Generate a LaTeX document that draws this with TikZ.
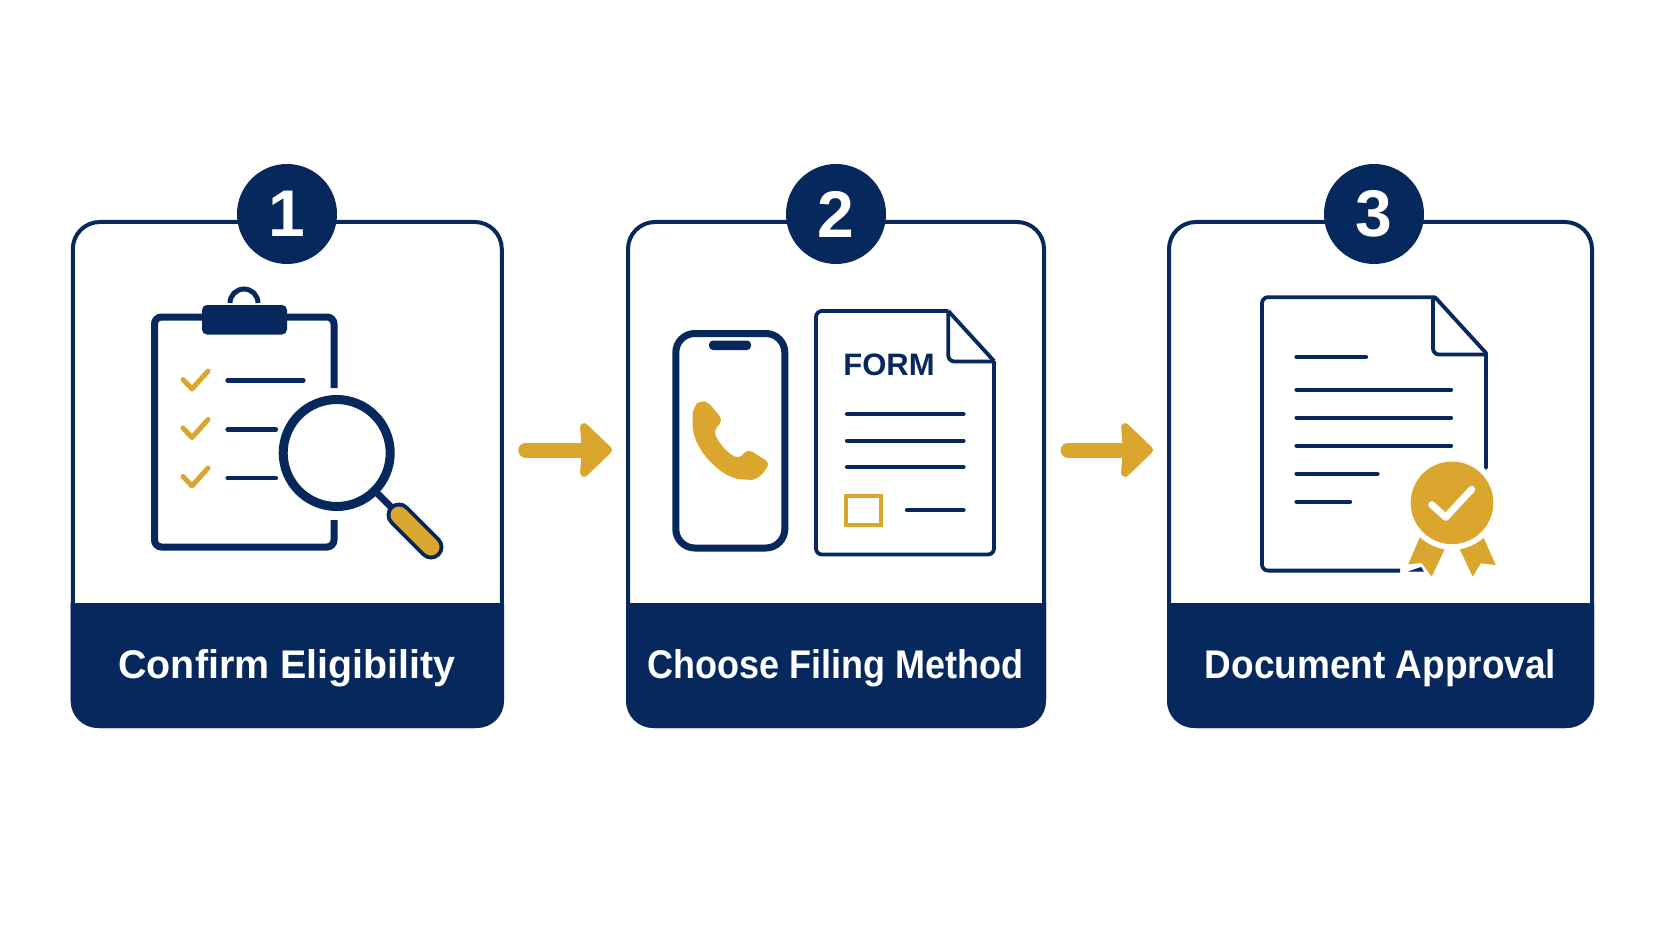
\documentclass[tikz,border=0pt]{standalone}
\usepackage{fontspec}
\setmainfont{Liberation Sans}
\usetikzlibrary{arrows.meta}
\definecolor{navy}{HTML}{07285C}
\definecolor{gold}{HTML}{DBA62E}
\def\capsize{\fontsize{40}{48}\selectfont\bfseries}
\tikzstyle{card}=[draw=navy,fill=white,rectangle,rounded corners=27pt,line width=4pt,minimum height=504pt]
\tikzstyle{band}=[fill=navy]
\tikzstyle{badge}=[circle,fill=navy,text=white,inner sep=0pt,minimum size=100pt,
                   font=\fontsize{66}{70}\selectfont\bfseries]
\tikzstyle{title}=[anchor=base,text=white,inner sep=0pt,font=\capsize]
\tikzstyle{flow}=[draw=gold,line width=15pt,line cap=round,-{Stealth[length=34pt,width=64pt,inset=2pt,round]}]
\tikzstyle{icon}=[draw=navy,line width=7pt,rounded corners=7pt]
\tikzstyle{sheet}=[draw=navy,line width=3.8pt,rounded corners=6pt,line join=round]
\tikzstyle{rule}=[draw=navy,line width=4.2pt,line cap=round]
\tikzstyle{tick}=[draw=gold,line width=5pt,line cap=round,line join=round]

\begin{document}
\begin{tikzpicture}[x=1pt,y=-1pt]
  \useasboundingbox (0,0) rectangle (1672,941);

  % step 1
  \node[card,minimum width=429pt] (c1card) at (287.3,474) {};
  \path[band] (70.7,603) -- (504,603) [rounded corners=27pt] -- (504,728) -- (70.7,728) [sharp corners] -- cycle;
  \node[badge] (c1badge) at (287,214) {1};
  \node[title] (c1title) at (287,678) {\scalebox{0.985}[1]{Confirm Eligibility}};

  % clipboard
  \draw[icon] (334,388) -- (334,317) -- (154.5,317) -- (154.5,547) -- (334,547) -- (334,520);
  \draw[navy,line width=5pt] (230,303) arc (180:360:14);
  \fill[navy,rounded corners=5pt] (202,305) rectangle (287,334.5);
  \draw[tick] (183,379.5) -- (192,389) -- (208,371);
  \draw[tick] (183,428) -- (192,437.5) -- (208,419.5);
  \draw[tick] (183,476.5) -- (192,486) -- (208,468);
  \draw[rule] (227.5,380.4) -- (303.5,380.4);
  \draw[rule] (227.5,429.5) -- (276,429.5);
  \draw[rule] (227.5,478.2) -- (276,478.2);

  % magnifier
  \draw[navy,line width=7pt] (376,492) -- (392,508);
  \draw[navy,line width=25pt,line cap=round] (399,515) -- (431,547);
  \draw[gold,line width=17pt,line cap=round] (399,515) -- (431,547);
  \draw[navy,fill=white,line width=9pt] (336.7,453) circle (53.5);

  % step 2
  \node[card,minimum width=416pt] (c2card) at (836,474) {};
  \path[band] (626,603) -- (1046,603) [rounded corners=27pt] -- (1046,728) -- (626,728) [sharp corners] -- cycle;
  \node[badge] (c2badge) at (836,214) {2};
  \node[title] (c2title) at (835.6,678) {\scalebox{0.9}[1]{Choose Filing Method}};

  % phone
  \draw[icon,rounded corners=19pt] (675.8,333.5) rectangle (784.8,548);
  \fill[navy,rounded corners=4pt] (709,340.5) rectangle (751,350);
  \fill[gold,rounded corners=5pt] (715,410.5) -- (723,420) -- (713.5,431)
    .. controls (720,445) and (727,452) .. (738.5,459) -- (748,449) -- (770,463) -- (762,475)
    .. controls (757,478) and (752,480) .. (747,479.5) .. controls (722,479) and (693,450) .. (692.5,420)
    .. controls (692.5,410) and (697,403) .. (702,401) -- (708,402) -- cycle;

  % form
  \draw[sheet] (948.3,311) -- (816,311) -- (816,554.5) -- (994,554.5) -- (994,361);
  \draw[sheet] (948.3,311) [sharp corners] -- (994,361);
  \draw[sheet] (948.3,311) -- (948.3,361.5) -- (994,361.5);
  \node[anchor=base,text=navy,inner sep=0pt,font=\fontsize{31}{36}\selectfont\bfseries] (c2form) at (889,375.5) {FORM};
  \draw[rule] (847,414.2) -- (963.5,414.2);
  \draw[rule] (847,440.6) -- (963.5,440.6);
  \draw[rule] (847,467.1) -- (963.5,467.1);
  \draw[gold,line width=4pt] (846.3,496) rectangle (881,524.5);
  \draw[rule] (907,510) -- (963.5,510);

  % step 3
  \node[card,minimum width=423pt] (c3card) at (1380.5,474) {};
  \path[band] (1167,603) -- (1594,603) [rounded corners=27pt] -- (1594,728) -- (1167,728) [sharp corners] -- cycle;
  \node[badge] (c3badge) at (1374,214) {3};
  \node[title] (c3title) at (1380.5,678) {\scalebox{0.925}[1]{Document Approval}};

  % certificate
  \draw[sheet] (1400,570.6) -- (1262,570.6) -- (1262,297.2) -- (1435,297.2);
  \draw[sheet,line cap=round,sharp corners] (1435,297.2) -- (1486,353) -- (1486,468);
  \draw[sheet] (1433,299) -- (1433,354.5) -- (1486,354.5);
  \fill[navy] (1408,571.5) -- (1421,567) -- (1424,571.5) -- cycle;
  \draw[rule] (1296.5,357) -- (1366,357);
  \draw[rule] (1296.5,389.6) -- (1451,389.6);
  \draw[rule] (1296.5,417.6) -- (1451,417.6);
  \draw[rule] (1296.5,445.6) -- (1451,445.6);
  \draw[rule] (1296.5,473.6) -- (1377.5,473.6);
  \draw[rule] (1296.5,501.6) -- (1350,501.6);

  % seal
  \fill[gold] (1425,525) -- (1445,548.3) -- (1431.7,576.7) -- (1421.7,563) -- (1408.3,564.3) -- cycle;
  \fill[gold] (1478,525) -- (1495.7,565) -- (1480.7,563.3) -- (1472.7,576.7) -- (1459.3,548.3) -- cycle;
  \fill[white] (1452,502.8) circle (47);
  \fill[gold] (1452,502.8) circle (41.3);
  \draw[white,line width=7pt,line cap=round,line join=round] (1431.7,504.7) -- (1445.7,517.3) -- (1471.7,489.3);

  % arrows between the cards
  \path[flow] ([shift={(22,-24)}]c1card.east) -- ([shift={(-14,-24)}]c2card.west);
  \path[flow] ([shift={(22,-24)}]c2card.east) -- ([shift={(-14,-24)}]c3card.west);

\end{tikzpicture}
\end{document}
